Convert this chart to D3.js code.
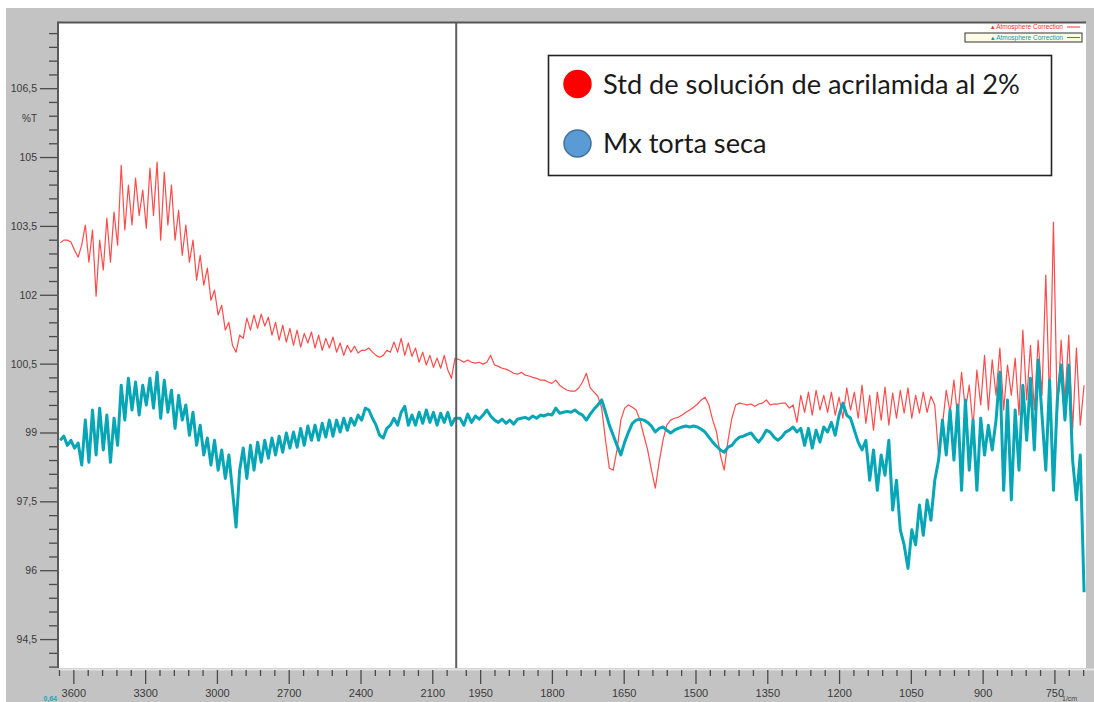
<!DOCTYPE html>
<html>
<head>
<meta charset="utf-8">
<script src="https://cdn.jsdelivr.net/npm/d3@7"></script>
<style>
  body { margin: 0; background: #fff; }
  svg { display: block; }
</style>
</head>
<body>
<svg id="chart" width="1094" height="702"></svg>
<script>
// Wavenumber sampling (cm-1): 15 cm-1 steps above 2000, 8 cm-1 steps below
const wavenumbers = [
  3655,3640,3625,3610,3595,3580,3565,3550,3535,3520,
  3505,3490,3475,3460,3445,3430,3415,3400,3385,3370,
  3355,3340,3325,3310,3295,3280,3265,3250,3235,3220,
  3205,3190,3175,3160,3145,3130,3115,3100,3085,3070,
  3055,3040,3025,3010,2995,2980,2965,2950,2935,2920,
  2905,2890,2875,2860,2845,2830,2815,2800,2785,2770,
  2755,2740,2725,2710,2695,2680,2665,2650,2635,2620,
  2605,2590,2575,2560,2545,2530,2515,2500,2485,2470,
  2455,2440,2425,2410,2395,2380,2365,2350,2335,2320,
  2305,2290,2275,2260,2245,2230,2215,2200,2185,2170,
  2155,2140,2125,2110,2095,2080,2065,2050,2035,2020,
  2005,
  1992,1984,1976,1968,1960,1952,1944,1936,1928,1920,
  1912,1904,1896,1888,1880,1872,1864,1856,1848,1840,
  1832,1824,1816,1808,1800,1792,1784,1776,1768,1760,
  1752,1744,1736,1728,1720,1712,1704,1696,1688,1680,
  1672,1664,1656,1648,1640,1632,1624,1616,1608,1600,
  1592,1584,1576,1568,1560,1552,1544,1536,1528,1520,
  1512,1504,1496,1488,1480,1472,1464,1456,1448,1440,
  1432,1424,1416,1408,1400,1392,1384,1376,1368,1360,
  1352,1344,1336,1328,1320,1312,1304,1296,1288,1280,
  1272,1264,1256,1248,1240,1232,1224,1216,1208,1200,
  1192,1184,1176,1168,1160,1152,1144,1136,1128,1120,
  1112,1104,1096,1088,1080,1072,1064,1056,1048,1040,
  1032,1024,1016,1008,1000,992,984,976,968,960,
  952,944,936,928,920,912,904,896,888,880,
  872,864,856,848,840,832,824,816,808,800,
  792,784,776,768,760,752,744,736,728,720,
  712,704,696,688
];

// %T, acrylamide 2% standard solution
const acrylamideStd = [
  103.13,103.19,103.19,103.15,102.97,102.82,103.08,103.52,102.71,103.41,
  101.97,103.19,102.54,103.67,102.71,103.80,103.08,104.82,103.41,104.39,
  103.52,104.54,103.73,104.28,103.45,104.76,103.73,104.89,103.19,104.67,
  103.52,104.39,103.19,103.84,102.86,103.52,102.71,103.19,102.32,102.86,
  102.21,102.58,101.88,102.10,101.56,101.77,101.23,101.40,100.90,100.75,
  101.12,101.05,101.49,101.23,101.56,101.27,101.58,101.32,101.51,101.12,
  101.40,101.01,101.34,100.97,101.27,100.90,101.23,100.86,101.16,100.95,
  101.19,100.84,101.12,100.79,101.05,100.84,101.08,100.75,100.95,100.68,
  100.90,100.75,100.88,100.73,100.79,100.79,100.84,100.75,100.68,100.64,
  100.68,100.79,100.75,100.97,100.75,101.05,100.68,100.95,100.66,100.84,
  100.53,100.75,100.47,100.68,100.42,100.62,100.40,100.68,100.36,100.18,
  100.62,
  100.58,100.53,100.58,100.53,100.51,100.53,100.49,100.53,100.68,100.47,
  100.44,100.40,100.38,100.34,100.29,100.27,100.31,100.25,100.23,100.20,
  100.18,100.14,100.14,100.10,100.07,100.14,100.03,99.97,99.92,99.90,
  99.90,99.97,100.10,100.29,99.97,99.88,99.79,99.53,98.83,98.22,
  98.18,98.62,99.27,99.53,99.60,99.55,99.49,99.27,98.94,98.62,
  98.18,97.79,98.35,98.83,99.16,99.27,99.31,99.33,99.38,99.44,
  99.49,99.55,99.62,99.71,99.77,99.60,99.27,99.01,98.51,98.18,
  98.83,99.31,99.60,99.64,99.62,99.60,99.62,99.57,99.62,99.64,
  99.71,99.60,99.62,99.62,99.64,99.64,99.53,99.60,99.22,99.81,
  99.44,99.88,99.38,99.92,99.49,99.81,99.44,99.88,99.38,99.77,
  99.31,99.97,99.49,99.88,99.31,100.03,99.20,99.81,99.05,99.88,
  99.27,99.99,99.16,99.86,99.31,99.92,99.42,99.97,99.31,99.81,
  99.42,99.88,99.44,99.79,99.60,98.51,99.16,99.92,99.44,100.14,
  99.31,100.31,99.49,100.03,99.12,100.36,99.60,100.68,99.49,100.58,
  99.81,100.84,99.49,100.47,99.81,100.62,99.38,101.23,99.71,100.90,
  99.49,101.01,99.81,102.43,99.60,103.58,99.38,101.01,99.71,101.12,
  99.05,100.84,99.16,100.03
];

// %T, dried cake sample
const driedCake = [
  98.83,98.92,98.72,98.83,98.66,98.77,98.29,99.27,98.35,99.49,
  98.51,99.53,98.62,99.38,98.35,99.31,98.72,100.03,99.27,100.18,
  99.49,100.10,99.38,100.03,99.60,100.18,99.53,100.31,99.31,100.14,
  99.44,99.92,99.09,99.81,99.27,99.60,98.94,99.44,98.72,99.16,
  98.51,98.88,98.29,98.83,98.18,98.62,98.00,98.51,97.74,96.94,
  98.18,98.66,98.00,98.72,98.18,98.79,98.35,98.83,98.44,98.88,
  98.51,98.92,98.57,98.99,98.66,99.01,98.68,99.09,98.72,99.14,
  98.83,99.16,98.83,99.20,98.90,99.27,98.92,99.27,99.01,99.31,
  99.05,99.31,99.16,99.38,99.27,99.53,99.49,99.31,99.16,98.94,
  98.88,99.09,99.16,99.31,99.16,99.44,99.57,99.16,99.38,99.16,
  99.44,99.20,99.49,99.22,99.44,99.16,99.42,99.22,99.44,99.16,
  99.31,
  99.31,99.16,99.40,99.22,99.36,99.29,99.38,99.49,99.36,99.27,
  99.22,99.29,99.20,99.27,99.18,99.29,99.31,99.33,99.29,99.36,
  99.31,99.38,99.36,99.40,99.38,99.53,99.42,99.44,99.46,99.44,
  99.49,99.42,99.38,99.27,99.40,99.51,99.60,99.71,99.44,99.16,
  98.94,98.72,98.51,98.79,99.01,99.20,99.27,99.29,99.27,99.22,
  99.14,99.01,99.09,99.12,99.05,98.99,99.05,99.09,99.12,99.14,
  99.12,99.14,99.12,99.07,99.01,98.90,98.79,98.70,98.62,98.57,
  98.68,98.72,98.83,98.90,98.92,98.96,98.99,98.88,98.79,98.90,
  99.05,99.01,98.90,98.83,98.90,99.01,99.05,99.12,99.01,99.09,
  98.72,99.09,98.66,99.05,98.79,99.12,99.01,99.22,98.94,99.38,
  99.64,99.38,99.31,99.05,98.79,98.62,98.83,97.96,98.62,97.74,
  98.51,98.07,98.83,97.31,97.96,96.88,96.55,96.04,96.88,96.55,
  97.42,96.76,97.53,97.09,97.96,98.40,99.27,98.51,99.49,98.40,
  99.60,97.74,99.71,98.18,99.27,97.74,99.31,98.51,99.16,98.62,
  99.27,100.31,97.74,99.71,97.53,99.49,98.18,100.03,98.83,100.18,
  98.62,100.58,99.38,98.18,100.14,97.74,99.71,100.47,99.27,100.47,
  98.40,97.53,98.51,95.52
];

const seriesNames = ["Std de solución de acrilamida al 2%", "Mx torta seca"];
const seriesColors = ["#ff2a2a", "#06a6b6"];
const legendDotColors = ["#ff0000", "#5b9bd5"];
const xMajorTicks = [3600, 3300, 3000, 2700, 2400, 2100, 1950, 1800, 1650, 1500, 1350, 1200, 1050, 900, 750];
const yMajorTicks = [106.5, 105, 103.5, 102, 100.5, 99, 97.5, 96, 94.5];
const yAxisTitle = "%T";
const xAxisUnit = "1/cm";
const cornerReadout = "0,64";
const miniLegendText = "Atmosphere Correction";

// Frame geometry
const W = 1094, H = 702;
const panel = { left: 6, top: 8 };
const plot = { left: 59, top: 23, right: 1086, bottom: 668 };

// Abscissa: 2000 cm-1 splits the axis; below it the scale is twice as wide per cm-1
const xHigh = 3660, xBreak = 2000, xLow = 684;
const spanHigh = xHigh - xBreak, spanLow = (xBreak - xLow) * 2;
const breakPx = plot.left + (plot.right - plot.left) * spanHigh / (spanHigh + spanLow);
const x = d3.scaleLinear().domain([xHigh, xBreak, xLow]).range([plot.left, breakPx, plot.right]);
const y = d3.scaleLinear().domain([93.87, 107.92]).range([plot.bottom, plot.top]);

const svg = d3.select("#chart");
svg.append("rect").attr("width", W).attr("height", H).attr("fill", "#fff");
svg.append("rect").attr("x", panel.left).attr("y", panel.top)
  .attr("width", W - panel.left).attr("height", H - panel.top).attr("fill", "#c3c3c3");
svg.append("rect").attr("x", plot.left).attr("y", plot.top)
  .attr("width", plot.right - plot.left).attr("height", plot.bottom - plot.top).attr("fill", "#fff");

// light bevel along the top of the x-axis strip
svg.append("line").attr("x1", plot.left).attr("x2", W).attr("y1", plot.bottom + 1.5).attr("y2", plot.bottom + 1.5)
  .attr("stroke", "#e4e4e4").attr("stroke-width", 2);

// X axis: major and minor ticks
const xMinor = d3.range(3660, 2039, -60).concat(d3.range(1980, 689, -30))
  .filter(v => !xMajorTicks.includes(v));
const xAxisG = svg.append("g").attr("transform", `translate(0,${plot.bottom + 2})`);
xAxisG.call(d3.axisBottom(x).tickValues(xMinor).tickSize(6).tickFormat(""));
xAxisG.call(g => g.select(".domain").remove());
const xMajG = svg.append("g").attr("transform", `translate(0,${plot.bottom + 2})`)
  .call(d3.axisBottom(x).tickValues(xMajorTicks).tickSize(14).tickPadding(6).tickFormat(d => d));
xMajG.select(".domain").remove();
svg.selectAll("g .tick line").attr("stroke", "#4a4a4a").attr("stroke-width", 1.3);
xMajG.selectAll("text").attr("fill", "#3a3a3a").attr("font-family", "Liberation Sans, Arial, sans-serif")
  .attr("font-size", 11).attr("dy", "0.6em");

// Y axis: major and minor ticks
const yMinor = d3.range(93.9, 107.8, 0.3).map(v => +v.toFixed(1))
  .filter(v => !yMajorTicks.some(m => Math.abs(m - v) < 1e-6));
const yMinG = svg.append("g").attr("transform", `translate(${plot.left - 1},0)`)
  .call(d3.axisLeft(y).tickValues(yMinor).tickSize(9).tickFormat(""));
yMinG.select(".domain").remove();
const yMajG = svg.append("g").attr("transform", `translate(${plot.left - 1},0)`)
  .call(d3.axisLeft(y).tickValues(yMajorTicks).tickSize(18).tickPadding(3)
    .tickFormat(d => String(d).replace(".", ",")));
yMajG.select(".domain").remove();
svg.selectAll("g .tick line").attr("stroke", "#4a4a4a").attr("stroke-width", 1.3);
yMajG.selectAll("text").attr("fill", "#3a3a3a").attr("font-family", "Liberation Sans, Arial, sans-serif")
  .attr("font-size", 10.5);

svg.append("text").attr("x", 37).attr("y", y(105.85)).attr("dy", "0.35em").attr("text-anchor", "end")
  .attr("fill", "#3a3a3a").attr("font-family", "Liberation Sans, Arial, sans-serif").attr("font-size", 10)
  .text(yAxisTitle);

// Plot frame: left axis rule and top edge
svg.append("line").attr("x1", plot.left - 1).attr("x2", plot.left - 1).attr("y1", plot.top).attr("y2", plot.bottom)
  .attr("stroke", "#5a5a5a").attr("stroke-width", 2);
svg.append("line").attr("x1", plot.left - 2).attr("x2", plot.right).attr("y1", plot.top - 0.5).attr("y2", plot.top - 0.5)
  .attr("stroke", "#555").attr("stroke-width", 2);

// Corner readouts along the bottom edge
svg.append("text").attr("x", x(xLow) - 24).attr("y", H - 1).attr("fill", "#444")
  .attr("font-family", "Liberation Sans, Arial, sans-serif").attr("font-size", 7).text(xAxisUnit);
svg.append("text").attr("x", plot.left - 2).attr("y", H - 1).attr("text-anchor", "end").attr("fill", "#1aaabb")
  .attr("font-weight", "bold").attr("font-family", "Liberation Sans, Arial, sans-serif").attr("font-size", 7)
  .text(cornerReadout);

// Spectra
svg.append("clipPath").attr("id", "plotClip").append("rect")
  .attr("x", plot.left).attr("y", plot.top).attr("width", plot.right - plot.left).attr("height", plot.bottom - plot.top);
const line = d3.line().x(d => x(d[0])).y(d => y(d[1]));
const seriesData = [acrylamideStd, driedCake].map(vals => wavenumbers.map((w, i) => [w, vals[i]]));
const spectra = svg.append("g").attr("clip-path", "url(#plotClip)");
spectra.append("path").datum(seriesData[0]).attr("d", line).attr("fill", "none")
  .attr("stroke", seriesColors[0]).attr("stroke-width", 1.2).attr("stroke-opacity", 0.85)
  .attr("stroke-linejoin", "round");
spectra.append("path").datum(seriesData[1]).attr("d", line).attr("fill", "none")
  .attr("stroke", seriesColors[1]).attr("stroke-width", 3).attr("stroke-linejoin", "round");

// Cursor at the scale break
svg.append("line").attr("x1", x(xBreak)).attr("x2", x(xBreak)).attr("y1", plot.top).attr("y2", plot.bottom)
  .attr("stroke", "#5e5e5e").attr("stroke-width", 2);

// Small instrument legend in the top-right corner
const mini = svg.append("g").attr("font-family", "Liberation Sans, Arial, sans-serif").attr("font-size", 6.5);
mini.append("text").attr("x", 1063).attr("y", 29).attr("text-anchor", "end").attr("fill", "#ff3030")
  .text("\u25B4 " + miniLegendText);
mini.append("line").attr("x1", 1067).attr("x2", 1080).attr("y1", 27).attr("y2", 27).attr("stroke", "#ff3030");
mini.append("rect").attr("x", 965).attr("y", 33).attr("width", 117).attr("height", 9)
  .attr("fill", "#fffbe6").attr("stroke", "#333").attr("stroke-width", 1);
mini.append("text").attr("x", 1063).attr("y", 40).attr("text-anchor", "end").attr("fill", "#0a9aaa")
  .text("\u25B4 " + miniLegendText);
mini.append("line").attr("x1", 1067).attr("x2", 1080).attr("y1", 37.5).attr("y2", 37.5).attr("stroke", "#0a9aaa");

// Series legend
const legend = svg.append("g");
legend.append("rect").attr("x", 548.5).attr("y", 55.5).attr("width", 503).attr("height", 120)
  .attr("fill", "#fff").attr("stroke", "#222").attr("stroke-width", 1.6);
const legendRows = [{ cy: 84, ty: 94 }, { cy: 143.5, ty: 153 }];
seriesNames.forEach((name, i) => {
  legend.append("circle").attr("cx", 577.5).attr("cy", legendRows[i].cy).attr("r", 13.5)
    .attr("fill", legendDotColors[i]).attr("stroke", i === 0 ? "#ff0000" : "#41719c").attr("stroke-width", 1.5);
  const t = legend.append("text").attr("x", 603).attr("y", legendRows[i].ty)
    .attr("fill", "#1a1a1a").attr("font-family", "Lato, 'Open Sans', sans-serif").attr("font-size", 24).text(name);
  if (i === 0) {
    const w = t.node().getComputedTextLength();
    const fs = 24 * 417 / w;
    legend.selectAll("text").attr("font-size", fs);
  } else {
    t.attr("font-size", legend.select("text").attr("font-size"));
  }
});
</script>
</body>
</html>
